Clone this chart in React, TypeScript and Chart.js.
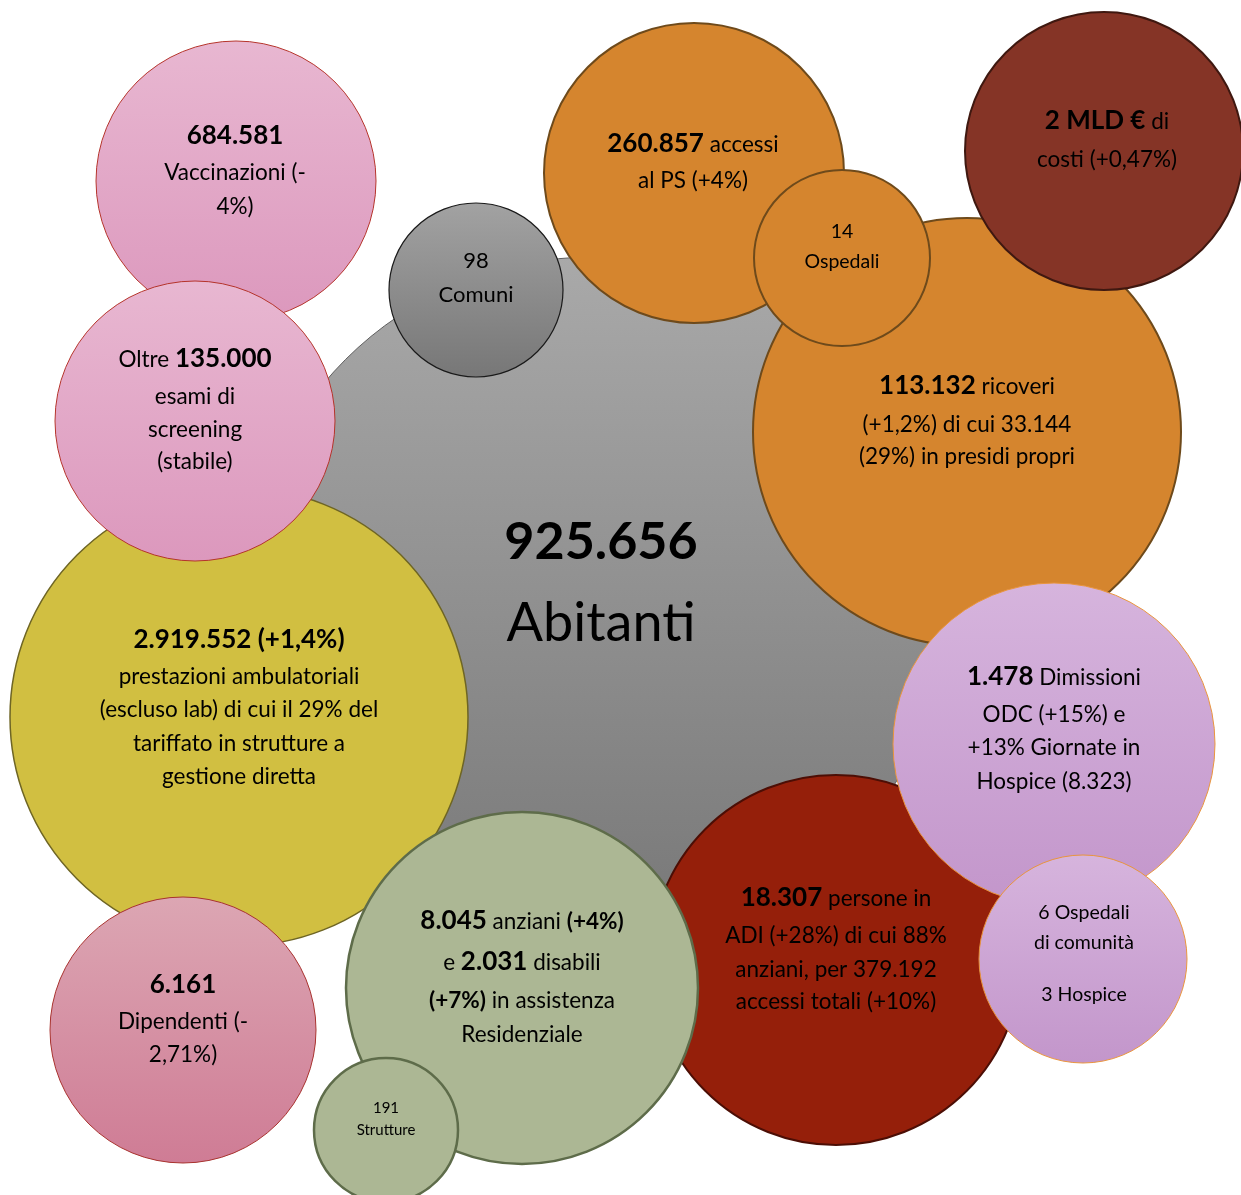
import React, { useEffect, useRef } from "react";
import { Chart, registerables } from "chart.js";

Chart.register(...registerables);

// ---- data ----
const bubbleLabels = [
  "Abitanti",
  "Comuni",
  "Vaccinazioni",
  "Prestazioni ambulatoriali",
  "Esami di screening",
  "Ricoveri",
  "Accessi al PS",
  "Ospedali",
  "Costi",
  "Persone in ADI",
  "Dimissioni ODC / Hospice",
  "Ospedali di comunità / Hospice",
  "Dipendenti",
  "Assistenza residenziale",
  "Strutture",
];
const bubbleX = [593, 476, 236, 239, 195, 967, 694, 842, 1104, 836, 1054, 1083, 183, 522, 386];
const bubbleY = [607, 290, 181, 717, 421, 432, 173, 258, 151, 960, 744, 959, 1030, 988, 1130];
const bubbleR = [350, 87, 140, 229, 140, 214, 150, 88, 139, 185, 161, 104, 133, 176, 72];

// "**x**" = big bold figure, "*x*" = bold body text
const bubbleTexts: string[][] = [
  ["**925.656**", "Abitanti"],
  ["98", "Comuni"],
  ["**684.581**", "Vaccinazioni (-", "4%)"],
  ["**2.919.552 (+1,4%)**", "prestazioni ambulatoriali", "(escluso lab) di cui il 29% del", "tariffato in strutture a", "gestione diretta"],
  ["Oltre **135.000**", "esami di", "screening", "(stabile)"],
  ["**113.132** ricoveri", "(+1,2%) di cui 33.144", "(29%) in presidi propri"],
  ["**260.857** accessi", "al PS (+4%)"],
  ["14", "Ospedali"],
  ["**2 MLD €** di", "costi (+0,47%)"],
  ["**18.307** persone in", "ADI (+28%) di cui 88%", "anziani, per 379.192", "accessi totali (+10%)"],
  ["**1.478** Dimissioni", "ODC (+15%) e", "+13% Giornate in", "Hospice (8.323)"],
  ["6 Ospedali", "di comunità", "", "3 Hospice"],
  ["**6.161**", "Dipendenti (-", "2,71%)"],
  ["**8.045** anziani *(+4%)*", "e **2.031** disabili", "*(+7%)* in assistenza", "Residenziale"],
  ["191", "Strutture"],
];

// ---- styles ----
const FONT = "Lato, 'Open Sans', sans-serif";
const fills: string[][] = [
  ["#a9a9a9", "#767676"],
  ["#a2a2a2", "#777777"],
  ["#e8b7d1", "#dc98bd"],
  ["#d1bf41"],
  ["#e8b7d1", "#dc98bd"],
  ["#d5852e"],
  ["#d5852e"],
  ["#d5852e"],
  ["#853426"],
  ["#951f0a"],
  ["#d6b4dd", "#c396cb"],
  ["#d6b4dd", "#c396cb"],
  ["#dca6b3", "#cf7c95"],
  ["#acb794"],
  ["#acb794"],
];
const borders = [
  "#5e5e5e", "#1a1a1a", "#b5342b", "#6e6524", "#b5342b", "#6e4a1b", "#6e4a1b", "#6e4a1b",
  "#3f1810", "#4c0e05", "#e9953d", "#e9953d", "#a8322e", "#5e6c4a", "#5e6c4a",
];
const borderWidths = [1, 1.2, 1, 1.5, 1, 2, 2, 2, 2, 2, 1, 1, 1, 2.5, 2.5];

type TS = { dx: number; base: number[]; body: number; big: number };
const textStyles: TS[] = [
  { dx: 8, base: [-48, 34], body: 54, big: 52 },
  { dx: 0, base: [-22, 12], body: 22, big: 22 },
  { dx: -1, base: [-37, -1, 33], body: 22.5, big: 26 },
  { dx: 0, base: [-69.5, -33, 0, 34, 67], body: 22.5, big: 26 },
  { dx: 0, base: [-54, -17, 16, 48], body: 22.5, big: 26 },
  { dx: 0, base: [-38, -0.5, 32], body: 22.5, big: 26 },
  { dx: -1, base: [-21, 15], body: 22.5, big: 26 },
  { dx: 0, base: [-20, 10], body: 19.5, big: 19.5 },
  { dx: 3, base: [-22, 15.5], body: 22.5, big: 26 },
  { dx: 0, base: [-54.5, -17.3, 17, 49], body: 22.5, big: 26 },
  { dx: 0, base: [-59, -22, 10.5, 44.6], body: 22.5, big: 26 },
  { dx: 1, base: [-40, -10.4, 16, 42], body: 19.5, big: 19.5 },
  { dx: 0, base: [-37.5, -1, 32], body: 22.5, big: 26 },
  { dx: 0, base: [-59, -18, 19.5, 54], body: 22.5, big: 26 },
  { dx: 0, base: [-17, 5], body: 15, big: 15 },
];

function parseLine(line: string, st: TS) {
  const parts = line.split(/(\*\*[^*]+\*\*|\*[^*]+\*)/).filter((p) => p.length > 0);
  return parts.map((p) => {
    if (p.startsWith("**")) return { text: p.slice(2, -2), font: `bold ${st.big}px ${FONT}`, w: 0 };
    if (p.startsWith("*")) return { text: p.slice(1, -1), font: `bold ${st.body}px ${FONT}`, w: 0 };
    return { text: p, font: `${st.body}px ${FONT}`, w: 0 };
  });
}

const textPlugin = {
  id: "bubbleText",
  afterDatasetsDraw(chart: any) {
    const ctx = chart.ctx as CanvasRenderingContext2D;
    const xs = chart.scales.x;
    const ys = chart.scales.y;
    ctx.save();
    ctx.fillStyle = "#000";
    ctx.textBaseline = "alphabetic";
    ctx.textAlign = "left";
    bubbleTexts.forEach((lines, i) => {
      const st = textStyles[i];
      const cx = xs.getPixelForValue(bubbleX[i]) + st.dx;
      const cy = ys.getPixelForValue(bubbleY[i]);
      lines.forEach((line, j) => {
        if (!line) return;
        const segs = parseLine(line, st);
        let total = 0;
        segs.forEach((s) => {
          ctx.font = s.font;
          s.w = ctx.measureText(s.text).width;
          total += s.w;
        });
        let x = cx - total / 2;
        const y = cy + st.base[j];
        segs.forEach((s) => {
          ctx.font = s.font;
          ctx.fillText(s.text, x, y);
          x += s.w;
        });
      });
    });
    ctx.restore();
  },
};

export default function App() {
  const ref = useRef<HTMLCanvasElement | null>(null);
  useEffect(() => {
    if (!ref.current) return;
    const chart = new Chart(ref.current, {
      type: "bubble",
      data: {
        labels: bubbleLabels,
        datasets: [
          {
            label: "Indicatori",
            data: bubbleX.map((x, i) => ({ x, y: bubbleY[i], r: bubbleR[i] })),
            backgroundColor: (c: any) => {
              const i = c.dataIndex;
              if (i === undefined) return "#999";
              const f = fills[i];
              const ch = c.chart;
              if (f.length === 1) return f[0];
              const sy = ch.scales && ch.scales.y;
              const cy = sy ? sy.getPixelForValue(bubbleY[i]) : NaN;
              const r = bubbleR[i];
              if (!isFinite(cy)) return f[0];
              const g = ch.ctx.createLinearGradient(0, cy - r, 0, cy + r);
              g.addColorStop(0, f[0]);
              g.addColorStop(1, f[1]);
              return g;
            },
            borderColor: borders,
            borderWidth: borderWidths,
            clip: false,
          } as any,
        ],
      },
      options: {
        responsive: false,
        maintainAspectRatio: false,
        devicePixelRatio: 1,
        animation: false,
        events: [],
        layout: { padding: 0, autoPadding: false },
        scales: {
          x: { type: "linear", min: 0, max: 1241, display: false },
          y: { type: "linear", min: 0, max: 1195, reverse: true, display: false },
        },
        plugins: {
          legend: { display: false },
          tooltip: { enabled: false },
        },
      },
      plugins: [textPlugin],
    });
    return () => chart.destroy();
  }, []);
  return (
    <div style={{ position: "absolute", left: 0, top: 0, width: 1241, height: 1195, background: "#fff" }}>
      <canvas ref={ref} width={1241} height={1195} style={{ width: 1241, height: 1195, display: "block" }} />
    </div>
  );
}
